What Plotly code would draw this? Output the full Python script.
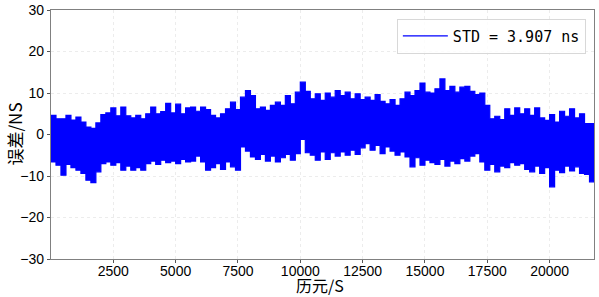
import plotly.graph_objects as go

# Envelope of the error signal, every 200 epochs
epochs = list(range(0, 21800, 200)) + [21780]

upper = [
    4.6, 3.8, 3.8, 4.6, 3.5, 4.2, 3.0, 1.8, 1.5, 2.8,      # 0-1800
    4.8, 5.2, 6.4, 4.5, 6.6, 4.5, 4.0, 4.6, 3.8, 5.0,      # 2000-3800
    6.6, 5.0, 5.5, 7.5, 5.2, 7.3, 5.0, 6.4, 6.6, 5.6,      # 4000-5800
    6.6, 6.0, 4.6, 4.0, 5.0, 6.2, 7.8, 6.0, 9.0, 10.6,     # 6000-7800
    9.4, 6.2, 6.6, 5.8, 7.0, 7.8, 7.0, 9.4, 7.4, 10.2,     # 8000-9800
    12.6, 10.4, 8.6, 9.8, 8.2, 10.0, 9.0, 10.6, 9.4, 10.2, # 10000-11800
    8.6, 9.8, 8.4, 9.0, 8.2, 9.6, 8.0, 7.4, 8.4, 7.0,      # 12000-13800
    8.6, 10.2, 9.4, 10.6, 12.4, 10.2, 10.0, 11.0, 13.4, 10.6,  # 14000-15800
    11.6, 10.2, 11.4, 11.6, 10.4, 9.6, 10.0, 7.0, 3.8, 4.4,    # 16000-17800
    3.6, 6.2, 4.6, 6.4, 5.0, 6.2, 4.6, 6.4, 4.0, 3.4,      # 18000-19800
    4.8, 3.0, 5.6, 4.4, 6.2, 4.0, 5.0, 2.6, 2.6, 2.4,      # 20000-21600, end
]

lower = [
    -6.6, -7.4, -9.8, -7.2, -8.0, -8.6, -9.4, -11.0, -11.6, -9.0,   # 0-1800
    -7.0, -6.6, -7.4, -6.8, -8.6, -7.6, -8.6, -8.0, -8.6, -7.0,     # 2000-3800
    -6.4, -7.2, -6.2, -6.8, -6.4, -7.0, -6.0, -6.6, -6.4, -5.2,     # 4000-5800
    -6.6, -8.6, -8.0, -7.0, -8.4, -6.6, -7.8, -8.6, -3.0, -4.0,     # 6000-7800
    -5.4, -6.0, -4.8, -6.4, -5.2, -6.6, -5.6, -4.8, -6.2, -4.6,     # 8000-9800
    -1.2, -4.4, -5.0, -6.2, -4.2, -6.0, -4.4, -5.2, -4.2, -5.0,     # 10000-11800
    -3.8, -4.8, -3.2, -2.2, -3.8, -2.6, -4.6, -3.0, -4.0, -5.0,     # 12000-13800
    -4.2, -5.4, -7.8, -5.6, -7.4, -6.2, -6.8, -7.2, -6.0, -7.6,     # 14000-15800
    -6.4, -7.0, -5.8, -6.4, -5.2, -4.6, -6.6, -8.6, -7.2, -9.0,     # 16000-17800
    -7.6, -8.0, -6.8, -7.4, -7.0, -8.4, -9.0, -7.6, -9.4, -8.0,     # 18000-19800
    -12.6, -8.6, -9.2, -7.6, -8.8, -7.8, -9.4, -9.6, -11.4, -10.0,  # 20000-21600, end
]

legend_label = "STD = 3.907 ns"
x_title = "历元/S"
y_title = "误差/NS"
x_ticks = [2500, 5000, 7500, 10000, 12500, 15000, 17500, 20000]
y_ticks = [-30, -20, -10, 0, 10, 20, 30]

blue = "#0000ff"
fig = go.Figure()
fig.add_trace(go.Scatter(
    x=epochs, y=upper, mode="lines", line=dict(color=blue, width=1.2, shape="hv"),
    name=legend_label, showlegend=True,
))
fig.add_trace(go.Scatter(
    x=epochs, y=lower, mode="lines", line=dict(color=blue, width=1.2, shape="hv"),
    fill="tonexty", fillcolor=blue, showlegend=False,
))

axis_common = dict(
    showline=True, mirror=True, linecolor="#808080", linewidth=1.2,
    showgrid=True, gridcolor="#ececec", griddash="dot", gridwidth=1,
    ticks="outside", ticklen=3, tickcolor="#555555",
    tickfont=dict(family="Liberation Sans, Arial, sans-serif", size=14, color="#000000"),
    zeroline=False, automargin=False,
)

title_font = dict(family="Noto Sans CJK SC", size=16, color="#000")

fig.update_layout(
    width=599, height=297,
    margin=dict(l=51, r=5, t=10, b=38),
    plot_bgcolor="white", paper_bgcolor="white",
    xaxis=dict(range=[0, 21780], tickvals=x_ticks, ticktext=[str(v) for v in x_ticks],
               ticklabelstandoff=-4, **axis_common),
    yaxis=dict(range=[-30, 30], tickvals=y_ticks, **axis_common),
    legend=dict(x=0.985, y=0.965, xanchor="right", yanchor="top",
                bgcolor="rgba(255,255,255,0.85)", bordercolor="#d8d8d8", borderwidth=1,
                itemwidth=45,
                font=dict(family="DejaVu Sans Mono", size=15, color="#000")),
    showlegend=True,
    annotations=[
        dict(text=x_title, xref="paper", yref="paper", x=0.495, y=-0.106,
             xanchor="center", yanchor="middle", showarrow=False, font=title_font,
             borderpad=0),
        dict(text=y_title, xref="paper", yref="paper", x=-0.068, y=0.5,
             xanchor="center", yanchor="middle", showarrow=False, textangle=-90,
             font=dict(family="Noto Sans CJK SC", size=17, color="#000")),
    ],
)

fig.write_html("out.html")
